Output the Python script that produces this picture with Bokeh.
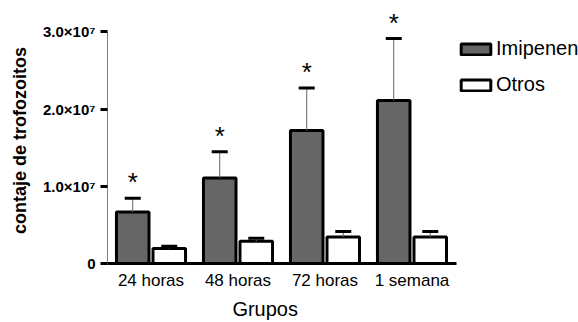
from bokeh.plotting import figure
from bokeh.models import FixedTicker, Legend, LegendItem, ColumnDataSource
from bokeh.core.properties import value
from bokeh.embed import file_html
from bokeh.resources import INLINE

# ---- data ----
groups = ["24 horas", "48 horas", "72 horas", "1 semana"]
series_names = ["Imipenen", "Otros"]
imipenen = [0.666e7, 1.106e7, 1.722e7, 2.11e7]
imipenen_err = [0.179e7, 0.342e7, 0.55e7, 0.803e7]
otros = [0.194e7, 0.287e7, 0.343e7, 0.343e7]
otros_err = [0.03e7, 0.04e7, 0.071e7, 0.071e7]
significant = ["*", "*", "*", "*"]
y_ticks = [0, 1e7, 2e7, 3e7]
y_tick_labels = ["0", "1.0×10⁷", "2.0×10⁷", "3.0×10⁷"]
x_title = "Grupos"
y_title = "contaje  de trofozoitos"

FONT = "Liberation Sans"
NB = "\u00a0"
idx = list(range(len(groups)))
off = 0.21
bw = 0.374
cap = 0.092

src_i = ColumnDataSource(dict(
    x=[i - off for i in idx], top=imipenen,
    up=[v + e for v, e in zip(imipenen, imipenen_err)], star=significant))
src_o = ColumnDataSource(dict(
    x=[i + off for i in idx], top=otros,
    up=[v + e for v, e in zip(otros, otros_err)]))

p = figure(width=578, height=322, x_range=(-0.5, 4.914), y_range=(0, 3.25e7),
           output_backend="svg", toolbar_location=None,
           min_border_left=107, min_border_right=0,
           min_border_top=12, min_border_bottom=59)
p.outline_line_color = None
p.grid.visible = False
p.background_fill_color = "white"

r1 = p.vbar(x="x", top="top", width=bw, fill_color="#666666",
            line_color="black", line_width=3, source=src_i)
r2 = p.vbar(x="x", top="top", width=bw, fill_color="white",
            line_color="black", line_width=3, source=src_o)

for src in (src_i, src_o):
    p.segment(x0="x", y0="top", x1="x", y1="up", line_color="#666666",
              line_width=1, source=src)
    d = src.data
    capsrc = ColumnDataSource(dict(x0=[x - cap for x in d["x"]],
                                   x1=[x + cap for x in d["x"]], y=d["up"]))
    p.segment(x0="x0", y0="y", x1="x1", y1="y", line_color="black",
              line_width=3, source=capsrc)

p.text(x="x", y="up", text="star", source=src_i, text_align="center",
       text_baseline="alphabetic", y_offset=-16, text_font=value(FONT),
       text_font_size="26px", text_color="black")

# y axis
ya = p.yaxis[0]
ya.ticker = FixedTicker(ticks=y_ticks)
ya.bounds = (0, 3e7)
ya.major_label_overrides = {t: l for t, l in zip(y_ticks, y_tick_labels)}
ya.major_label_text_font = FONT
ya.major_label_text_font_style = "bold"
ya.major_label_text_font_size = "15px"
ya.major_label_text_color = "black"
ya.major_label_standoff = 5
ya.major_tick_out = 7
ya.major_tick_in = 0
ya.major_tick_line_width = 3
ya.major_tick_line_color = "black"
ya.minor_tick_line_color = None
ya.axis_line_color = "#808080"
ya.axis_line_width = 1
ya.axis_label = y_title
ya.axis_label_text_font = FONT
ya.axis_label_text_font_style = "bold"
ya.axis_label_text_font_size = "18px"
ya.axis_label_text_color = "black"
ya.axis_label_standoff = 10

# x axis
xa = p.xaxis[0]
xa.ticker = FixedTicker(ticks=idx)
xa.bounds = (-0.5, 3.517)
xa.major_label_overrides = {i: g for i, g in zip(idx, groups)}
xa.major_label_text_font = FONT
xa.major_label_text_font_size = "17px"
xa.major_label_text_color = "black"
xa.major_label_standoff = 7
xa.major_tick_out = 0
xa.major_tick_in = 0
xa.major_tick_line_color = None
xa.minor_tick_line_color = None
xa.axis_line_color = "black"
xa.axis_line_width = 3
xa.axis_label = x_title + NB * 28
xa.axis_label_text_font = FONT
xa.axis_label_text_font_style = "normal"
xa.axis_label_text_font_size = "20px"
xa.axis_label_text_color = "black"
xa.axis_label_standoff = 5

legend = Legend(items=[LegendItem(label=series_names[0], renderers=[r1]),
                       LegendItem(label=series_names[1], renderers=[r2])],
                location=(350, 167), glyph_width=37, glyph_height=14,
                label_height=14, spacing=13, padding=0, margin=0,
                border_line_color=None, background_fill_alpha=0,
                label_text_font=FONT, label_text_font_size="20px",
                label_standoff=2, label_text_color="black")
p.add_layout(legend)

open("out.html", "w").write(file_html(p, INLINE))
